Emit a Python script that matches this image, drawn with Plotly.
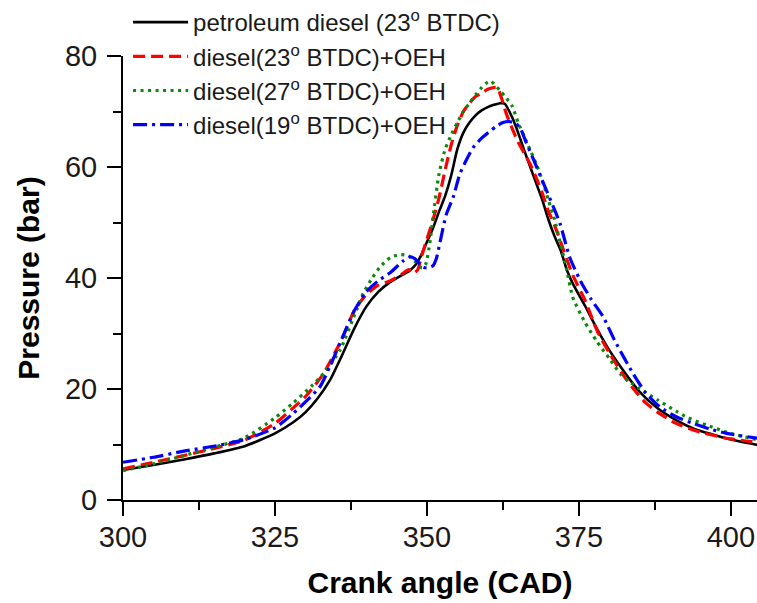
import plotly.graph_objects as go

# ---------------- data ----------------
series_names = [
    "petroleum diesel (23<sup>o</sup> BTDC)",
    "diesel(23<sup>o</sup> BTDC)+OEH",
    "diesel(27<sup>o</sup> BTDC)+OEH",
    "diesel(19<sup>o</sup> BTDC)+OEH",
]

black_x = [300, 305, 310, 315, 320, 325, 328, 330, 332, 334, 336, 338, 340, 342, 344, 346, 347, 348,
           349, 350, 351, 352, 353, 354, 355, 356, 357, 358, 359, 360, 361, 362, 362.8, 364, 365, 366,
           367, 368, 369, 370, 371, 372, 373, 374, 376, 378, 380, 382, 385, 388, 391, 394, 397, 400, 404.5]
black_y = [5.4, 6.3, 7.3, 8.4, 9.7, 12.0, 14.0, 15.8, 18.3, 21.5, 26.0, 30.8, 34.8, 37.5, 39.3, 40.6, 41.2, 42.2,
           44.0, 46.5, 49.0, 52.0, 54.8, 58.5, 63.2, 66.2, 68.0, 69.3, 70.2, 70.8, 71.2, 71.5, 71.4, 69.0, 66.2, 63.0,
           60.0, 57.0, 54.0, 50.5, 47.5, 45.0, 41.5, 39.0, 35.0, 30.8, 27.0, 23.8, 19.5, 16.5, 14.4, 12.8, 11.8, 10.9, 9.9]

red_x = [300, 305, 310, 315, 320, 325, 328, 330, 333, 336, 338, 340, 342, 344, 346, 347, 347.7, 348.5,
         349, 350, 351, 352, 353, 354, 355, 356, 357, 358, 359, 360, 361, 361.6, 362.3, 363, 364, 365,
         366, 367, 368, 369, 370, 371, 372, 374, 376, 378, 380, 382, 384, 386, 388, 391, 395, 400, 404.5]
red_y = [5.6, 6.8, 8.0, 9.3, 10.8, 13.8, 16.6, 18.6, 22.8, 29.0, 34.0, 37.0, 38.7, 39.5, 40.8, 41.5, 40.8, 41.5,
         43.5, 47.0, 50.5, 54.5, 59.5, 64.0, 67.5, 70.0, 71.5, 72.7, 73.3, 74.0, 74.3, 74.3, 72.3, 69.8, 67.0, 64.5,
         62.5, 60.5, 58.0, 55.2, 52.0, 49.5, 46.5, 40.5, 36.0, 30.5, 26.5, 23.0, 20.0, 17.5, 15.8, 13.8, 12.2, 11.0, 10.4]

green_x = [300, 305, 310, 315, 320, 325, 328, 331, 333, 335.7, 338.4, 339.5, 341, 342.3, 344, 345.5, 347, 348,
           349.2, 349.8, 350.5, 351, 352, 353, 354, 355, 356, 357, 358, 359, 360, 360.5, 361, 362, 363, 364,
           365, 366, 367, 368, 369, 370, 371, 372, 373, 374, 376, 378, 380, 382, 385, 388, 391, 393, 396, 400, 404.5]
green_y = [5.3, 6.5, 8.0, 9.5, 11.2, 14.8, 17.5, 20.5, 22.8, 27.0, 34.2, 37.2, 40.0, 42.0, 43.7, 44.2, 44.0, 43.0,
           41.8, 42.5, 46.5, 51.0, 58.8, 63.2, 65.8, 68.0, 70.0, 71.5, 73.0, 74.3, 75.3, 75.5, 75.0, 73.8, 72.5, 71.0,
           68.0, 65.5, 63.0, 60.5, 57.5, 54.0, 50.5, 46.0, 41.5, 36.5, 32.0, 28.5, 25.5, 22.5, 20.0, 18.0, 16.0, 14.8, 13.5, 12.0, 10.8]

blue_x = [300, 305, 310, 316, 320, 325, 328, 332.4, 334, 336, 338, 340, 342, 344, 346, 347.2, 348, 349.3,
          350, 351, 351.6, 352.1, 353.2, 354.3, 355.4, 356.5, 357.6, 359, 360.4, 361.5, 362.5, 363.5, 364.5, 365.3,
          366.3, 367.4, 368.5, 369.7, 370.8, 371.9, 373.5, 375.2, 377, 379, 381, 383.9, 386, 388.3, 391, 393.8, 396.5, 399.3, 404.5]
blue_y = [6.8, 7.7, 8.8, 9.9, 10.9, 13.0, 15.6, 20.4, 24.0, 29.0, 34.0, 37.5, 39.5, 41.0, 43.0, 43.8, 43.5, 42.0,
          41.8, 42.2, 43.7, 46.2, 51.5, 54.5, 58.7, 61.3, 63.5, 65.2, 66.5, 67.4, 68.0, 68.2, 67.9, 67.1,
          64.5, 61.7, 58.8, 55.7, 52.8, 49.8, 43.7, 39.6, 36.2, 33.0, 28.5, 22.8, 19.3, 16.8, 15.0, 13.8, 12.8, 12.0, 11.1]

x_ticks = [300, 325, 350, 375, 400]
y_ticks = [0, 20, 40, 60, 80]

# ---------------- figure ----------------
FONT = "Arial, 'Liberation Sans', Helvetica, sans-serif"

styles = [
    dict(color="#000000", width=2.6, dash="solid"),
    dict(color="#ff0000", width=3.2, dash="12px,6px"),
    dict(color="#0a8a0a", width=3.2, dash="3px,4.5px"),
    dict(color="#0000ff", width=3.2, dash="14px,5px,3px,5px"),
]
data = [(black_x, black_y), (red_x, red_y), (green_x, green_y), (blue_x, blue_y)]

fig = go.Figure()
for i, ((xs, ys), name, st) in enumerate(zip(data, series_names, styles)):
    fig.add_trace(go.Scatter(
        x=xs, y=ys, mode="lines", name=name, legendgroup=f"g{i}",
        line=dict(color=st["color"], width=st["width"], dash=st["dash"],
                  shape="spline", smoothing=0.6),
    ))

axis_common = dict(
    showline=True, linecolor="black", linewidth=2,
    ticks="outside", ticklen=14, tickwidth=2, tickcolor="black",
    showgrid=False, zeroline=False, mirror=False, automargin=False,
    tickfont=dict(family=FONT, size=29, color="#1a1a1a"),
)

fig.update_layout(
    width=757, height=603,
    margin=dict(l=123, r=0, t=55, b=103),
    paper_bgcolor="white", plot_bgcolor="white",
    font=dict(family=FONT, color="black"),
    showlegend=True,
    legend=dict(
        x=0.008, y=1.126, xanchor="left", yanchor="top",
        bgcolor="rgba(0,0,0,0)", borderwidth=0,
        font=dict(family=FONT, size=24, color="#1a1a1a"),
        itemwidth=55, tracegroupgap=0,
    ),
)
fig.update_xaxes(
    **axis_common,
    range=[300, 404.3], tickvals=x_ticks, ticklabelstandoff=-4,
    minor=dict(dtick=12.5, tick0=300, ticks="outside", ticklen=8, tickwidth=2, tickcolor="black"),
    title=dict(text="<b>Crank angle (CAD)</b>", font=dict(family=FONT, size=30, color="black"), standoff=20),
)
fig.update_yaxes(
    **axis_common,
    range=[0, 80], tickvals=y_ticks, ticklabelstandoff=4,
    minor=dict(dtick=10, tick0=0, ticks="outside", ticklen=8, tickwidth=2, tickcolor="black"),
    title=dict(text="<b>Pressure (bar)</b>", font=dict(family=FONT, size=30, color="black"), standoff=16),
)

fig.write_html("out.html", config={"displayModeBar": False},
               post_script="document.body.style.margin='0';")
